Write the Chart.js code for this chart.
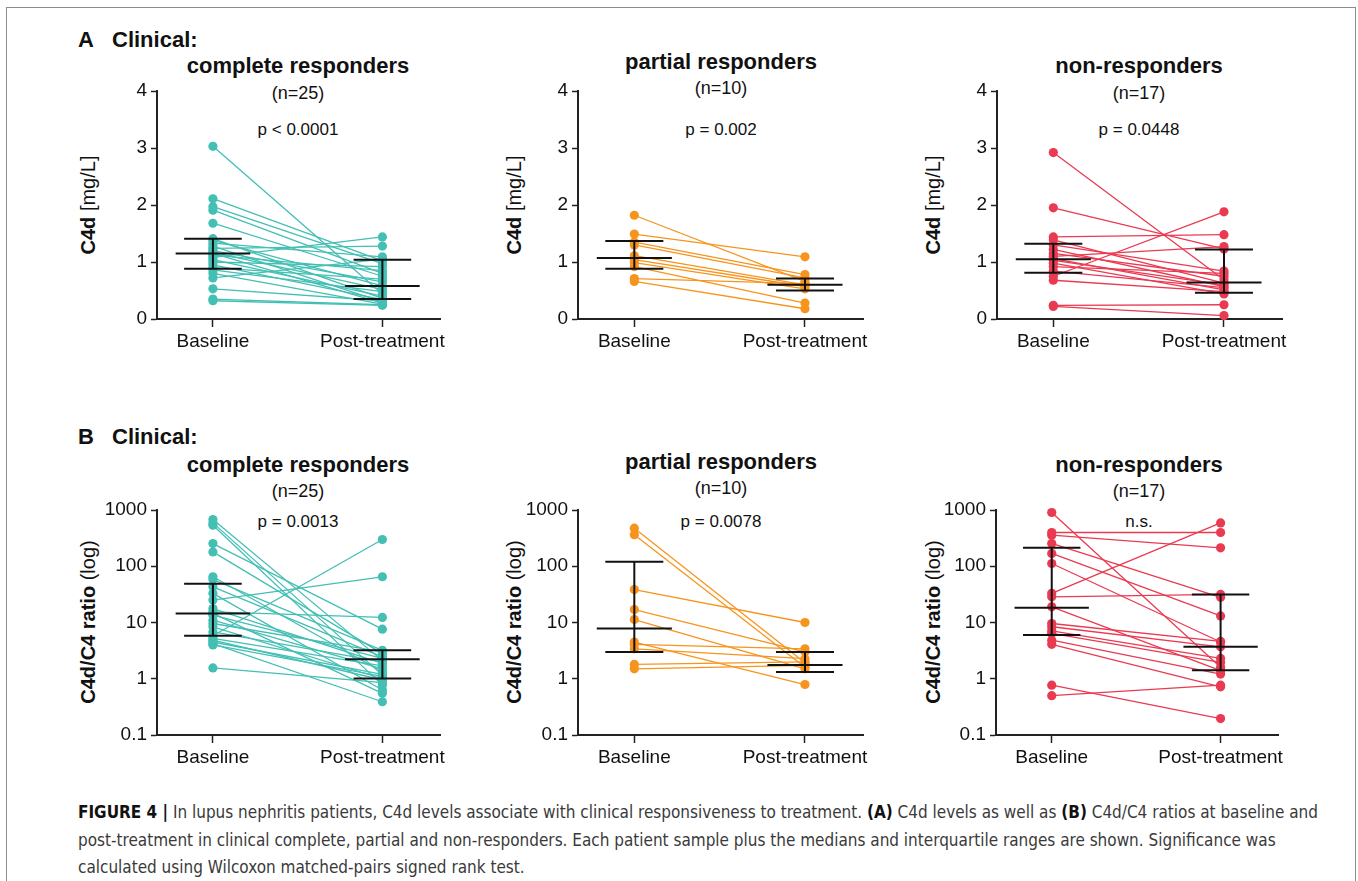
<!DOCTYPE html>
<html>
<head>
<meta charset="utf-8">
<script src="https://cdn.jsdelivr.net/npm/chart.js@4.4.0/dist/chart.umd.min.js"></script>
<style>
	body { margin: 0; background: #fff; font-family: "Liberation Sans", Arial, sans-serif; color: #111; }
	#page { position: relative; width: 1358px; height: 881px; overflow: hidden; }
	#frame { position: absolute; left: 6px; top: 7px; width: 1348px; height: 900px; border: 1.5px solid #8c8c8c; }
	.box { position: absolute; }
	.tx { position: absolute; white-space: nowrap; }
	.big { font-size: 22px; font-weight: bold; line-height: 22px; }
	.ttl { font-size: 22px; font-weight: bold; line-height: 22px; width: 400px; text-align: center; }
	.n { font-size: 18px; line-height: 18px; width: 300px; text-align: center; }
	.p { font-size: 17px; line-height: 18px; width: 300px; text-align: center; }
	.yt { position: absolute; white-space: nowrap; font-size: 20px; transform: translate(-50%, -50%) rotate(-90deg); }
	#caption { position: absolute; left: 78px; top: 799px; font-family: "Liberation Sans Narrow", "DejaVu Sans Condensed", "Liberation Sans", sans-serif; font-size: 17px; line-height: 27.5px; color: #3a3a3a; white-space: nowrap; transform-origin: 0 0; }
	#caption b { color: #111; }
</style>
</head>
<body>
<div id="page">
	<div id="frame"></div>

	<div class="tx big" style="left:78px; top:29px;">A</div>
	<div class="tx big" style="left:112px; top:29px;">Clinical:</div>
	<div class="tx big" style="left:78px; top:426px;">B</div>
	<div class="tx big" style="left:112px; top:426px;">Clinical:</div>

	<!-- row A titles -->
	<div class="tx ttl" style="left:98px; top:55px;">complete responders</div>
	<div class="tx n" style="left:148px; top:84px;">(n=25)</div>
	<div class="tx ttl" style="left:521px; top:51px;">partial responders</div>
	<div class="tx n" style="left:571px; top:79px;">(n=10)</div>
	<div class="tx ttl" style="left:939px; top:55px;">non-responders</div>
	<div class="tx n" style="left:989px; top:84px;">(n=17)</div>
	<div class="tx p" style="left:148px; top:121px;">p &lt; 0.0001</div>
	<div class="tx p" style="left:571px; top:121px;">p = 0.002</div>
	<div class="tx p" style="left:989px; top:121px;">p = 0.0448</div>

	<!-- row B titles -->
	<div class="tx ttl" style="left:98px; top:454px;">complete responders</div>
	<div class="tx n" style="left:148px; top:482px;">(n=25)</div>
	<div class="tx ttl" style="left:521px; top:451px;">partial responders</div>
	<div class="tx n" style="left:571px; top:479px;">(n=10)</div>
	<div class="tx ttl" style="left:939px; top:454px;">non-responders</div>
	<div class="tx n" style="left:989px; top:482px;">(n=17)</div>
	<div class="tx p" style="left:148px; top:513px;">p = 0.0013</div>
	<div class="tx p" style="left:571px; top:513px;">p = 0.0078</div>
	<div class="tx p" style="left:989px; top:513px;">n.s.</div>

	<!-- axis titles -->
	<div class="yt" style="left:88px; top:205px;"><b>C4d</b> [mg/L]</div>
	<div class="yt" style="left:514px; top:205px;"><b>C4d</b> [mg/L]</div>
	<div class="yt" style="left:933px; top:205px;"><b>C4d</b> [mg/L]</div>
	<div class="yt" style="left:88px; top:622px;"><b>C4d/C4 ratio</b> (log)</div>
	<div class="yt" style="left:514px; top:622px;"><b>C4d/C4 ratio</b> (log)</div>
	<div class="yt" style="left:933px; top:622px;"><b>C4d/C4 ratio</b> (log)</div>

	<div class="box" style="left:97px; top:81px; width:368px; height:276px;"><canvas id="a1"></canvas></div>
	<div class="box" style="left:518px; top:81px; width:370px; height:276px;"><canvas id="a2"></canvas></div>
	<div class="box" style="left:937px; top:81px; width:370px; height:276px;"><canvas id="a3"></canvas></div>
	<div class="box" style="left:97px; top:500px; width:368px; height:273px;"><canvas id="b1"></canvas></div>
	<div class="box" style="left:518px; top:500px; width:370px; height:273px;"><canvas id="b2"></canvas></div>
	<div class="box" style="left:936px; top:500px; width:367px; height:273px;"><canvas id="b3"></canvas></div>

	<div id="caption"><span id="cap1"><b>FIGURE 4 |</b> In lupus nephritis patients, C4d levels associate with clinical responsiveness to treatment. <b>(A)</b> C4d levels as well as <b>(B)</b> C4d/C4 ratios at baseline and</span><br>post-treatment in clinical complete, partial and non-responders. Each patient sample plus the medians and interquartile ranges are shown. Significance was<br>calculated using Wilcoxon matched-pairs signed rank test.</div>
</div>

<script>
// categories
const groups = ["Baseline", "Post-treatment"];
const logTicks = [0.1, 1, 10, 100, 1000];

// A: C4d [mg/L], paired baseline -> post-treatment
const crC4dBase = [3.03, 2.11, 1.97, 1.91, 1.68, 1.41, 1.38, 1.33, 1.28, 1.24, 1.20, 1.17, 1.15, 1.12, 1.08, 1.04, 1.00, 0.95, 0.90, 0.86, 0.80, 0.72, 0.53, 0.35, 0.32];
const crC4dPost = [0.44, 1.02, 0.97, 0.80, 0.75, 0.36, 0.58, 1.09, 0.30, 1.28, 0.65, 0.52, 0.28, 0.85, 1.44, 0.40, 0.92, 0.34, 0.70, 0.48, 0.26, 1.05, 0.32, 0.25, 0.24];
const prC4dBase = [1.82, 1.49, 1.35, 1.30, 1.11, 1.04, 0.99, 0.92, 0.71, 0.66];
const prC4dPost = [0.66, 1.09, 0.78, 0.72, 0.60, 0.57, 0.53, 0.28, 0.62, 0.18];
const nrC4dBase = [2.92, 1.95, 1.44, 1.39, 1.30, 1.22, 1.15, 1.10, 1.06, 1.03, 0.98, 0.92, 0.84, 0.75, 0.68, 0.24, 0.22];
const nrC4dPost = [0.69, 1.23, 1.48, 0.63, 0.84, 0.57, 0.75, 1.27, 0.51, 0.60, 0.44, 0.80, 0.55, 1.88, 0.48, 0.25, 0.06];

// medians and IQR [baseline, post]
const crC4dMed = [1.15, 0.58], crC4dQ1 = [0.88, 0.35], crC4dQ3 = [1.41, 1.04];
const prC4dMed = [1.07, 0.60], prC4dQ1 = [0.88, 0.50], prC4dQ3 = [1.37, 0.71];
const nrC4dMed = [1.05, 0.64], nrC4dQ1 = [0.81, 0.46], nrC4dQ3 = [1.32, 1.22];

// B: C4d/C4 ratio (log)
const crRatioBase = [678, 590, 536, 253, 180, 65, 58, 43, 33, 25, 17.7, 15.5, 14.5, 13.5, 11, 9.6, 8.4, 6.8, 5.8, 5.2, 4.85, 4.5, 4.2, 4.0, 1.56];
const crRatioPost = [2.1, 1.16, 0.77, 7.6, 2.8, 1.33, 3.2, 2.45, 0.63, 65, 1.87, 12.3, 0.55, 2.3, 1.5, 3.0, 1.0, 2.0, 299, 1.7, 0.95, 1.2, 0.39, 1.1, 0.85];
const prRatioBase = [475, 363, 38.5, 17, 11.3, 4.5, 4.1, 3.4, 1.8, 1.5];
const prRatioPost = [1.93, 1.6, 10, 3.0, 1.5, 0.79, 3.4, 2.27, 2.0, 1.73];
const nrRatioBase = [903, 398, 357, 254, 169, 112, 33, 28.6, 19, 9.6, 8.4, 7.1, 6.4, 4.85, 4.1, 0.77, 0.50];
const nrRatioPost = [1.6, 398, 213, 28, 13.1, 4.5, 590, 31.5, 1.4, 4.6, 3.7, 2.3, 1.95, 1.21, 0.72, 0.196, 0.77];

const crRatioMed = [14.5, 2.23], crRatioQ1 = [5.8, 1.01], crRatioQ3 = [49, 3.2];
const prRatioMed = [7.8, 1.75], prRatioQ1 = [2.98, 1.32], prRatioQ3 = [120, 3.0];
const nrRatioMed = [18.2, 3.7], nrRatioQ1 = [6.0, 1.42], nrRatioQ3 = [213, 31.5];

const teal = "#43bfb4";
const orange = "#f7941d";
const red = "#ea3a52";

Chart.defaults.font.family = "'Liberation Sans', Arial, sans-serif";
Chart.defaults.color = "#111";

function seg(x1, y1, x2, y2) {
	return {
		data: [{ x: x1, y: y1 }, { x: x2, y: y2 }],
		borderColor: "#111",
		borderWidth: 2,
		pointRadius: 0,
		clip: false,
		order: 0,
	};
}

function makePanel(id, base, post, med, q1, q3, color, isLog) {
	const datasets = [];
	for (let i = 0; i < base.length; i++) {
		datasets.push({
			data: [{ x: 0, y: base[i] }, { x: 1, y: post[i] }],
			borderColor: color,
			backgroundColor: color,
			borderWidth: 1.3,
			pointRadius: 4.6,
			pointBorderWidth: 0,
			clip: false,
			order: 1,
		});
	}
	// median + interquartile range
	for (let g = 0; g < 2; g++) {
		datasets.push(seg(g - 0.22, med[g], g + 0.22, med[g]));
		datasets.push(seg(g - 0.17, q1[g], g + 0.17, q1[g]));
		datasets.push(seg(g - 0.17, q3[g], g + 0.17, q3[g]));
		datasets.push(seg(g, q1[g], g, q3[g]));
	}

	const yScale = isLog
		? {
			type: "logarithmic",
			min: 0.1,
			max: 1000,
			afterBuildTicks: (s) => { s.ticks = logTicks.map((v) => ({ value: v })); },
			ticks: { callback: (v) => String(v) },
		}
		: {
			type: "linear",
			min: 0,
			max: 4,
			ticks: { stepSize: 1 },
		};
	Object.assign(yScale, {
		grid: { drawOnChartArea: false, tickLength: 6, color: "#222", tickWidth: 1.5 },
		border: { display: true, color: "#222", width: 2 },
		afterFit: (s) => { s.width = 60; s.paddingTop = 0; s.paddingBottom = 0; },
	});
	yScale.ticks.font = { size: 19 };
	yScale.ticks.padding = 4;
	yScale.ticks.color = "#111";

	new Chart(document.getElementById(id).getContext("2d"), {
		type: "line",
		data: { datasets: datasets },
		options: {
			responsive: true,
			maintainAspectRatio: false,
			animation: false,
			events: [],
			layout: { padding: { top: 10, right: 25, left: 0, bottom: 0 } },
			plugins: { legend: { display: false }, tooltip: { enabled: false } },
			scales: {
				x: {
					type: "linear",
					min: -0.33,
					max: 1.34,
					afterBuildTicks: (s) => { s.ticks = [{ value: 0 }, { value: 1 }]; },
					ticks: {
						callback: (v) => groups[v],
						font: { size: 19 },
						padding: 3,
						color: "#111",
						maxRotation: 0,
						autoSkip: false,
					},
					grid: { drawOnChartArea: false, tickLength: 8, color: "#222", tickWidth: 1.5 },
					border: { display: true, color: "#222", width: 2 },
					afterFit: (s) => { s.height = 38; s.paddingLeft = 0; s.paddingRight = 0; },
				},
				y: yScale,
			},
		},
	});
}

makePanel("a1", crC4dBase, crC4dPost, crC4dMed, crC4dQ1, crC4dQ3, teal, false);
makePanel("a2", prC4dBase, prC4dPost, prC4dMed, prC4dQ1, prC4dQ3, orange, false);
makePanel("a3", nrC4dBase, nrC4dPost, nrC4dMed, nrC4dQ1, nrC4dQ3, red, false);
makePanel("b1", crRatioBase, crRatioPost, crRatioMed, crRatioQ1, crRatioQ3, teal, true);
makePanel("b2", prRatioBase, prRatioPost, prRatioMed, prRatioQ1, prRatioQ3, orange, true);
makePanel("b3", nrRatioBase, nrRatioPost, nrRatioMed, nrRatioQ1, nrRatioQ3, red, true);

// stretch the caption so its first line spans the same width as in the figure
const cap = document.getElementById("caption");
const w1 = document.getElementById("cap1").getBoundingClientRect().width;
cap.style.transform = "scaleX(" + (1240 / w1) + ")";
</script>
</body>
</html>
